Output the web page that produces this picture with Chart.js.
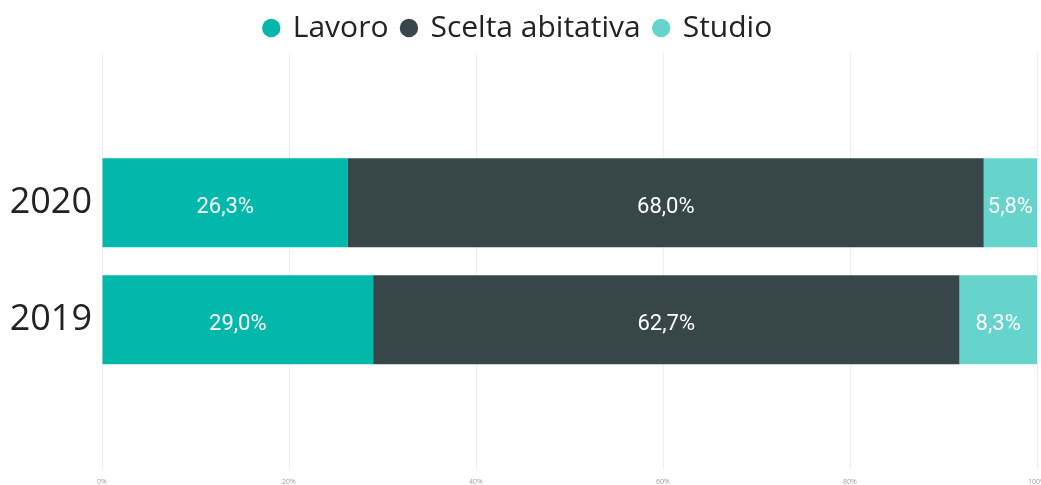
<!DOCTYPE html>
<html>
<head>
<meta charset="utf-8">
<script src="https://cdn.jsdelivr.net/npm/chart.js@4"></script>
<style>
  html, body { margin: 0; padding: 0; background: #fff; }
  #wrap { width: 1041px; height: 485px; }
</style>
</head>
<body>
<div id="wrap"><canvas id="chart"></canvas></div>
<script>
// Values
const years = ["2020", "2019"];
const seriesNames = ["Lavoro", "Scelta abitativa", "Studio"];
const lavoro = [26.3, 29.0];
const sceltaAbitativa = [68.0, 62.7];
const studio = [5.8, 8.3];
const xTicks = [0, 20, 40, 60, 80, 100];

const colors = ["#01B8AA", "#374649", "#66D4CC"];

// pair each value with its row index on the (linear) y axis
function toPoints(values) {
   return values.map((v, i) => ({ x: v, y: i }));
}

function formatPct(v) {
   return v.toFixed(1).replace(".", ",") + "%";
}

// White value labels in the middle of the visible part of each segment
const barLabels = {
   id: "barLabels",
   afterDatasetsDraw(chart) {
      const ctx = chart.ctx;
      const area = chart.chartArea;
      ctx.save();
      ctx.font = "22px Roboto";
      ctx.fillStyle = "#ffffff";
      ctx.textAlign = "center";
      ctx.textBaseline = "alphabetic";
      chart.data.datasets.forEach((ds, d) => {
         const meta = chart.getDatasetMeta(d);
         meta.data.forEach((bar, i) => {
            const left = Math.max(Math.min(bar.base, bar.x), area.left);
            const right = Math.min(Math.max(bar.base, bar.x), area.right);
            ctx.fillText(formatPct(ds.data[i].x), (left + right) / 2, bar.y + 10.5);
         });
      });
      ctx.restore();
   }
};

const values = [lavoro, sceltaAbitativa, studio];

new Chart(document.getElementById("chart"), {
   type: "bar",
   data: {
      datasets: seriesNames.map((name, k) => ({
         label: name,
         data: toPoints(values[k]),
         backgroundColor: colors[k],
         borderWidth: 0,
         categoryPercentage: 1,
         barPercentage: 0.76,
         clip: 0
      }))
   },
   options: {
      indexAxis: "y",
      responsive: true,
      maintainAspectRatio: false,
      animation: false,
      layout: { padding: { top: -1, right: 4, bottom: -9, left: 0 } },
      plugins: {
         legend: {
            position: "top",
            labels: {
               usePointStyle: true,
               pointStyle: "circle",
               boxWidth: 13,
               boxHeight: 13,
               padding: 14,
               color: "#222222",
               font: { family: "'Open Sans'", size: 30 }
            }
         },
         tooltip: { enabled: false }
      },
      scales: {
         x: {
            type: "linear",
            stacked: true,
            min: 0,
            max: 100,
            afterBuildTicks(scale) {
               scale.ticks = xTicks.map(v => ({ value: v }));
            },
            afterFit(scale) {
               scale.paddingRight = 0;
            },
            grid: { color: "#EDEDED", lineWidth: 1, drawTicks: false },
            border: { display: false },
            ticks: {
               padding: 8,
               color: "#A0A0A0",
               font: { family: "'Open Sans'", size: 7 },
               callback: v => v + "%"
            }
         },
         y: {
            type: "linear",
            stacked: true,
            reverse: true,
            offset: false,
            min: -1.28,
            max: 2.28,
            afterBuildTicks(scale) {
               scale.ticks = years.map((y, i) => ({ value: i }));
            },
            afterFit(scale) {
               scale.width = 102;
               scale.paddingTop = 0;
               scale.paddingBottom = 0;
            },
            grid: { display: false, drawTicks: false },
            border: { display: false },
            ticks: {
               padding: 10,
               color: "#222222",
               font: { family: "'Open Sans'", size: 36, lineHeight: 0.4 },
               callback: v => years[v] ?? ""
            }
         }
      }
   },
   plugins: [barLabels]
});
</script>
</body>
</html>
